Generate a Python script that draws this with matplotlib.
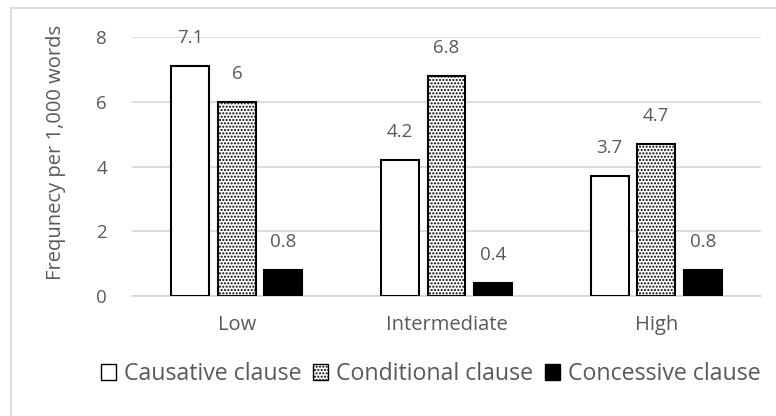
import matplotlib
matplotlib.use("Agg")
import matplotlib.pyplot as plt
from matplotlib.lines import Line2D
from matplotlib.patches import Patch
import numpy as np

plt.rcParams['font.family'] = ['Open Sans', 'DejaVu Sans']
plt.rcParams['hatch.linewidth'] = 1.0

categories = ["Low", "Intermediate", "High"]
series_names = ["Causative clause", "Conditional clause", "Concessive clause"]
causative = [7.1, 4.2, 3.7]
conditional = [6.0, 6.8, 4.7]
concessive = [0.8, 0.4, 0.8]
value_labels = [["7.1", "4.2", "3.7"], ["6", "6.8", "4.7"], ["0.8", "0.4", "0.8"]]
yticks = [0, 2, 4, 6, 8]

W, H = 776, 416
fig = plt.figure(figsize=(W / 100, H / 100), dpi=100)
ax = fig.add_axes([132 / W, 1 - 296 / H, (761 - 132) / W, (296 - 37.3) / H])

text_color = "#595959"
grid_color = "#d9d9d9"

x = np.arange(len(categories))
width = 0.181
step = 0.222
styles = [
    dict(facecolor="white", edgecolor="black", hatch=None),
    dict(facecolor="white", edgecolor="black", hatch="....."),
    dict(facecolor="black", edgecolor="black", hatch=None),
]
all_series = [causative, conditional, concessive]
for i, (vals, st) in enumerate(zip(all_series, styles)):
    bars = ax.bar(x + (i - 1) * step, vals, width, facecolor=st["facecolor"],
                  edgecolor=st["edgecolor"], hatch=st["hatch"], linewidth=1.5,
                  zorder=3)
    for b, lab in zip(bars, value_labels[i]):
        ax.annotate(lab, (b.get_x() + b.get_width() / 2, b.get_height()),
                    xytext=(0, 14), textcoords="offset points",
                    ha="center", va="bottom", fontsize=13.5, color=text_color)

ax.set_xlim(-0.5, len(categories) - 0.5)
ax.set_ylim(0, 8)
ax.set_yticks(yticks)
ax.set_yticklabels([str(t) for t in yticks])
ax.set_xticks(x)
ax.set_xticklabels(categories)
ax.tick_params(axis="both", length=0, colors=text_color)
ax.tick_params(axis="y", pad=18, labelsize=13.5)
ax.tick_params(axis="x", pad=14, labelsize=14.5)
ax.yaxis.grid(True, color=grid_color, linewidth=1.3, zorder=0)
ax.set_axisbelow(True)
for s in ["top", "right", "left"]:
    ax.spines[s].set_visible(False)
ax.spines["bottom"].set_color(grid_color)
ax.spines["bottom"].set_linewidth(1.3)

fig.text(56 / W, 1 - 25 / H, "Frequnecy per 1,000 words", rotation=90,
         ha="center", va="top", fontsize=14.5, color=text_color)

handles = [Patch(facecolor=st["facecolor"], edgecolor="black",
                 hatch=st["hatch"], linewidth=1.0) for st in styles]
leg = fig.legend(handles, series_names, loc="center", bbox_to_anchor=(431 / W, 1 - 374 / H),
                 ncol=3, frameon=False, fontsize=16.7, handlelength=0.65,
                 handleheight=0.65, handletextpad=0.35, columnspacing=0.5,
                 borderpad=0, borderaxespad=0)
for t in leg.get_texts():
    t.set_color(text_color)

# light frame around the chart area
fig.add_artist(Line2D([11 / W, 11 / W], [0, 1 - 8 / H], transform=fig.transFigure,
                      color=grid_color, linewidth=1.3))
fig.add_artist(Line2D([11 / W, 1], [1 - 8 / H, 1 - 8 / H], transform=fig.transFigure,
                      color=grid_color, linewidth=1.3))

fig.savefig("out.png", dpi=100)
